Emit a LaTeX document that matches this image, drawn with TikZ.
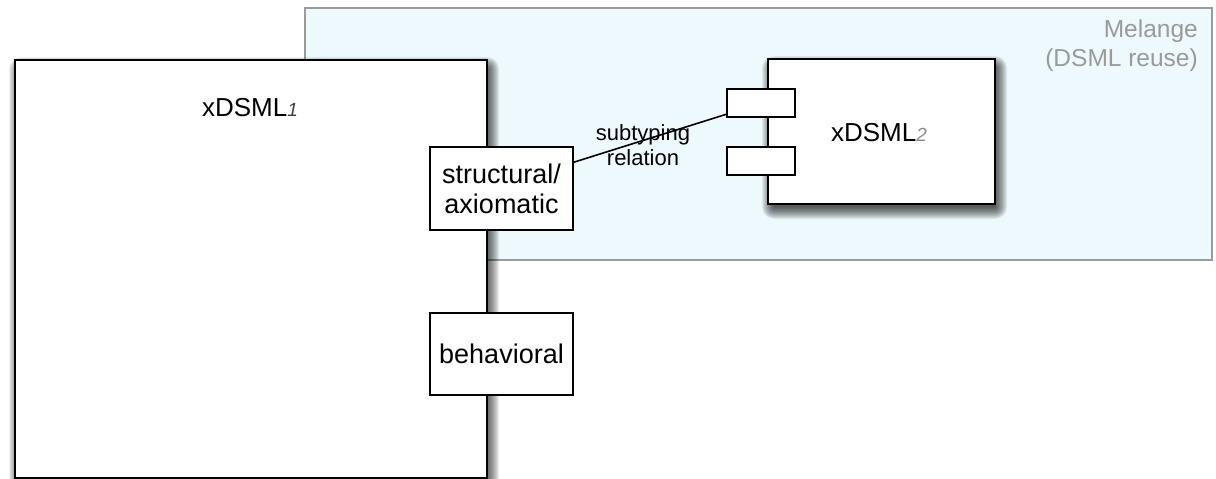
\documentclass[tikz,border=0pt]{standalone}
\usepackage{fontspec}
\setmainfont{Liberation Sans}
\definecolor{melfill}{HTML}{EEF9FD}
\definecolor{melline}{HTML}{9B9B9B}
\definecolor{meltext}{HTML}{9A9A9A}
\newcommand\softshadow[4]{%
  \foreach \e in {-3,-2,...,9}{%
    \fill[black, opacity=0.07, rounded corners=\e pt+3pt]
      ({#1-\e+3},{#2-\e+6}) rectangle ({#3+\e+3},{#4+\e+6});}}
\begin{document}
\begin{tikzpicture}[x=1pt,y=-1pt,
  comp/.style={draw=black, line width=2pt, fill=white, inner sep=0pt, outer sep=0pt},
  melbox/.style={draw=melline, line width=2pt, fill=melfill, inner sep=0pt, outer sep=0pt},
  portbox/.style={draw=black, line width=2pt, fill=white, inner sep=0pt, outer sep=0pt,
    align=center, font=\fontsize{27}{30}\selectfont},
  lbl/.style={inner sep=0pt, font=\fontsize{26}{29}\selectfont},
  sub/.style={inner sep=0pt, align=center, font=\fontsize{22}{25}\selectfont}
]
\useasboundingbox (0,0) rectangle (1216,479);
\node[melbox, minimum width=907pt, minimum height=252pt] (mel) at (758.5,134) {};
\node[inner sep=0pt, anchor=north east, align=right, text=meltext,
  font=\fontsize{24.5}{29}\selectfont] (mellbl) at (1198,20) {Melange\\(DSML reuse)};
\softshadow{15}{60}{487}{478}
\node[comp, minimum width=472pt, minimum height=418pt] (x1) at (251,269) {};
\node[lbl] (x1lbl) at (250,108) {xDSML{\fontsize{19}{19}\selectfont\itshape\color{black!75}1}};
\softshadow{768}{59}{995}{204}
\node[comp, minimum width=227pt, minimum height=145pt] (x2) at (881.5,131.5) {};
\node[lbl] (x2lbl) at (879,133) {xDSML{\fontsize{19}{19}\selectfont\itshape\color{black!45}2}};
\node[portbox, minimum width=68pt, minimum height=28pt] (p1) at (761,103) {};
\node[portbox, minimum width=68pt, minimum height=28pt] (p2) at (761,160.5) {};
\node[portbox, minimum width=143pt, minimum height=83pt] (s) at (501.5,188.5) {structural/\\axiomatic};
\node[portbox, minimum width=143pt, minimum height=82pt] (b) at (501.5,354) {behavioral};
\draw[line width=1.6pt] (s.20) -- (p1.198);
\node[sub] (sublbl) at (643,145) {subtyping\\relation};
\end{tikzpicture}
\end{document}
